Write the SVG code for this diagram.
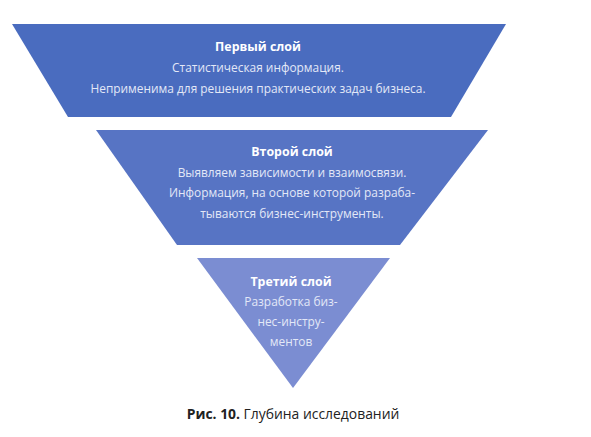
<svg xmlns="http://www.w3.org/2000/svg" width="591" height="437" viewBox="0 0 591 437">
<style>
.t{font-family:"Open Sans","Noto Sans",sans-serif;font-size:12.4px;font-weight:bold;fill:#ffffff;text-anchor:middle}
.b{font-family:"Open Sans","Noto Sans",sans-serif;font-size:11.9px;fill:#e3e8f7;text-anchor:middle}
.c{font-family:"Open Sans","Noto Sans",sans-serif;font-size:13.9px;fill:#222222;text-anchor:middle}
</style>
<rect width="591" height="437" fill="#ffffff"/>
<g id="layer1">
<polygon points="12,24 506,24 451,117 68,117" fill="#4a6cbf"/>
<text class="t" x="258" y="51">Первый слой</text>
<text class="b" x="258" y="72">Статистическая информация.</text>
<text class="b" x="258" y="93">Неприменима для решения практических задач бизнеса.</text>
</g>
<g id="layer2">
<polygon points="96,130 488,130 400,245 177,245" fill="#5774c4"/>
<text class="t" x="292" y="156">Второй слой</text>
<text class="b" x="292" y="177">Выявляем зависимости и взаимосвязи.</text>
<text class="b" x="292" y="197">Информация, на основе которой разраба-</text>
<text class="b" x="292" y="218">тываются бизнес-инструменты.</text>
</g>
<g id="layer3">
<polygon points="197,258 390,258 293,388" fill="#7b8dd2"/>
<text class="t" x="291" y="286">Третий слой</text>
<text class="b" x="291" y="306">Разработка биз-</text>
<text class="b" x="291" y="326">нес-инстру-</text>
<text class="b" x="291" y="346">ментов</text>
</g>
<g id="connectors"/>
<text class="c" x="293" y="419"><tspan font-weight="bold">Рис. 10.</tspan> Глубина исследований</text>
</svg>
